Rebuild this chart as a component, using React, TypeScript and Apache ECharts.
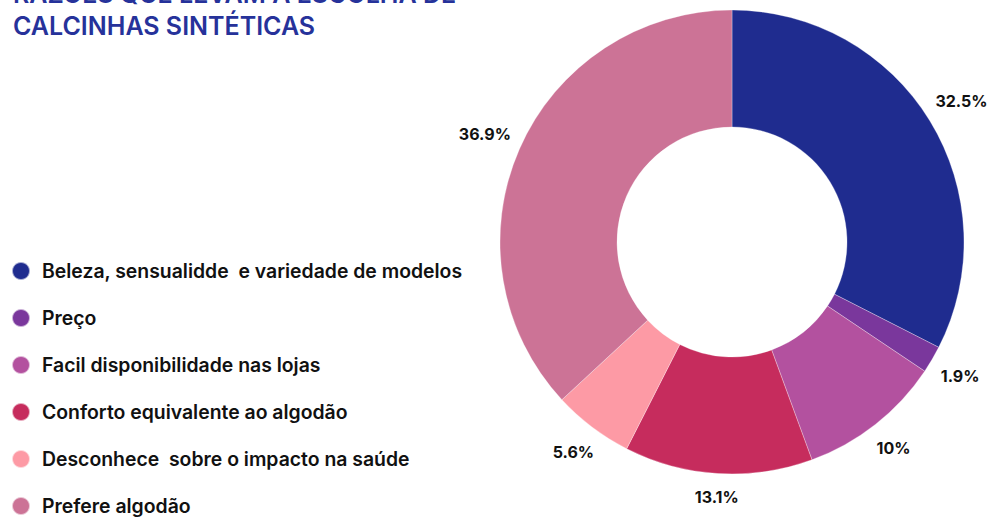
import React, { useEffect, useRef } from "react";
import * as echarts from "echarts";

const titleLines = ["RAZÕES QUE LEVAM À ESCOLHA DE", "CALCINHAS SINTÉTICAS"];
const categories = [
  "Beleza, sensualidde  e variedade de modelos",
  "Preço",
  "Facil disponibilidade nas lojas",
  "Conforto equivalente ao algodão",
  "Desconhece  sobre o impacto na saúde",
  "Prefere algodão",
];
const values = [32.5, 1.9, 10, 13.1, 5.6, 36.9];
const valueLabels = ["32.5%", "1.9%", "10%", "13.1%", "5.6%", "36.9%"];
const colors = ["#1f2c8f", "#7a379c", "#b3519f", "#c62c5d", "#fd9aa5", "#cc7396"];

export default function App() {
  const ref = useRef<HTMLDivElement>(null);
  useEffect(() => {
    if (!ref.current) return;
    const chart = echarts.init(ref.current, null, { renderer: "svg" });
    const font = "Inter, 'Noto Sans', sans-serif";
    chart.setOption({
      animation: false,
      backgroundColor: "#ffffff",
      title: {
        text: titleLines.join("\n"),
        left: 8,
        top: -27,
        textStyle: {
          fontFamily: font,
          fontSize: 25,
          fontWeight: 600,
          color: "#26329a",
          lineHeight: 32,
        },
      },
      legend: {
        orient: "vertical",
        left: 11,
        top: 261,
        height: 400,
        padding: 0,
        icon: "circle",
        itemWidth: 18,
        itemHeight: 18,
        itemGap: 27,
        data: categories,
        textStyle: {
          fontFamily: font,
          fontSize: 19.4,
          lineHeight: 18,
          fontWeight: 600,
          color: "#111111",
          padding: [0, 0, 0, 7],
        },
      },
      series: [
        {
          type: "pie",
          center: [732, 242],
          radius: [115, 232],
          startAngle: 90,
          clockwise: true,
          avoidLabelOverlap: false,
          itemStyle: { borderColor: "rgba(255,255,255,0.6)", borderWidth: 0.5 },
          label: {
            show: true,
            position: "outside",
            formatter: (p: any) => valueLabels[p.dataIndex],
            fontFamily: font,
            fontSize: 16,
            fontWeight: 700,
            color: "#111111",
          },
          labelLine: {
            show: true,
            length: 10,
            length2: 0,
            lineStyle: { opacity: 0, width: 0 },
          },
          labelLayout: (p: any) => {
            const pts = p.labelLinePoints;
            if (!pts || pts.length < 2) return {};
            const dx = pts[1][0] - pts[0][0];
            const dy = pts[1][1] - pts[0][1];
            const len = Math.sqrt(dx * dx + dy * dy) || 1;
            const ux = dx / len;
            const uy = dy / len;
            const w = p.labelRect ? p.labelRect.width : 40;
            const h = p.labelRect ? p.labelRect.height : 16;
            const support = Math.abs(ux) * w / 2 + Math.abs(uy) * h / 2;
            const d = 16 + 0.8 * support;
            return {
              x: pts[0][0] + ux * d,
              y: pts[0][1] + uy * d,
              align: "center",
              verticalAlign: "middle",
            };
          },
          data: categories.map((name, i) => ({
            name,
            value: values[i],
            itemStyle: { color: colors[i] },
          })),
        },
      ],
    });
    return () => chart.dispose();
  }, []);
  return (
    <div
      ref={ref}
      style={{ position: "fixed", left: 0, top: 0, width: 990, height: 520 }}
    />
  );
}
